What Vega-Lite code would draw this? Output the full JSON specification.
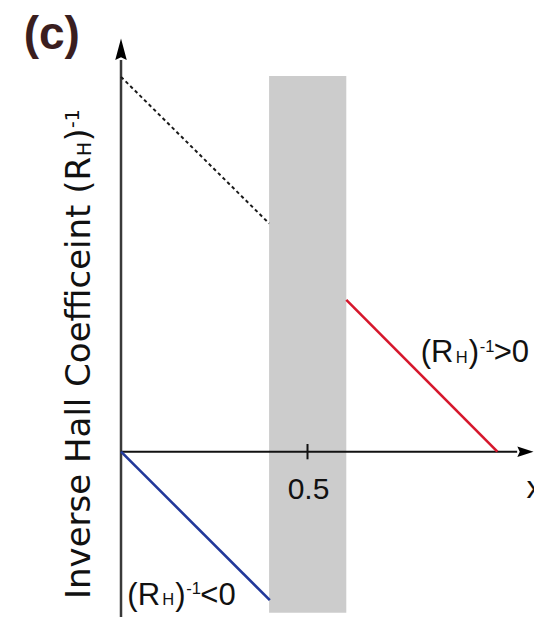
{
  "$schema": "https://vega.github.io/schema/vega-lite/v6.json",
  "width": 534,
  "height": 617,
  "padding": 0,
  "autosize": {"type": "none"},
  "background": "white",
  "config": {"view": {"stroke": null}},
  "datasets": {
    "band": [{"x": 0.397, "x2": 0.604, "y": -0.432, "y2": 1.007}],
    "curves": [
      {"branch": "extrapolated", "x": 0, "y": 1.005},
      {"branch": "extrapolated", "x": 0.397, "y": 0.612},
      {"branch": "positive", "x": 0.604, "y": 0.407},
      {"branch": "positive", "x": 1.009, "y": 0},
      {"branch": "negative", "x": 0, "y": 0},
      {"branch": "negative", "x": 0.399, "y": -0.398}
    ],
    "yaxis": [{"x": 0, "y": -0.45, "y2": 1.05}],
    "xaxis": [{"x": 0, "x2": 1.062, "y": 0}],
    "ticks": [{"x": 0.5, "y": -0.0204, "y2": 0.0206, "ly": -0.127}],
    "arrowUp": [{"x": 0, "y": 1.079}],
    "arrowRight": [{"x": 1.0842, "y": 0}],
    "labels": [
      {"branch": "positive", "x": 0.8035, "y": 0.2397, "open": "(R", "sub": "H", "close": ")", "sup": "-1", "sign": ">0"},
      {"branch": "negative", "x": 0.0169, "y": -0.411, "open": "(R", "sub": "H", "close": ")", "sup": "-1", "sign": "<0"}
    ],
    "title": [{"x": -0.0831, "y": -0.395, "main": "Inverse Hall Coefficeint (R", "sub": "H", "close": ")", "sup": "-1"}],
    "xname": [{"x": 1.087, "y": -0.125, "text": "x"}],
    "panel": [{"x": -0.261, "y": 1.0783, "text": "(c)"}]
  },
  "layer": [
    {
      "data": {"name": "band"},
      "mark": {"type": "rect", "color": "#cccccc"},
      "encoding": {
        "x": {"field": "x", "type": "quantitative", "axis": null, "scale": {"domain": [-0.3244, 1.1072], "nice": false, "zero": false}},
        "x2": {"field": "x2"},
        "y": {"field": "y", "type": "quantitative", "axis": null, "scale": {"domain": [-0.4432, 1.211], "nice": false, "zero": false}},
        "y2": {"field": "y2"}
      }
    },
    {
      "data": {"name": "yaxis"},
      "mark": {"type": "rule", "color": "#3a3a3a", "strokeWidth": 2.5},
      "encoding": {
        "x": {"field": "x", "type": "quantitative", "axis": null, "scale": {"domain": [-0.3244, 1.1072], "nice": false, "zero": false}},
        "y": {"field": "y", "type": "quantitative", "axis": null, "scale": {"domain": [-0.4432, 1.211], "nice": false, "zero": false}},
        "y2": {"field": "y2"}
      }
    },
    {
      "data": {"name": "xaxis"},
      "mark": {"type": "rule", "color": "#111111", "strokeWidth": 2},
      "encoding": {
        "x": {"field": "x", "type": "quantitative", "axis": null, "scale": {"domain": [-0.3244, 1.1072], "nice": false, "zero": false}},
        "x2": {"field": "x2"},
        "y": {"field": "y", "type": "quantitative", "axis": null, "scale": {"domain": [-0.4432, 1.211], "nice": false, "zero": false}}
      }
    },
    {
      "data": {"name": "ticks"},
      "mark": {"type": "rule", "color": "#111111", "strokeWidth": 2},
      "encoding": {
        "x": {"field": "x", "type": "quantitative", "axis": null, "scale": {"domain": [-0.3244, 1.1072], "nice": false, "zero": false}},
        "y": {"field": "y", "type": "quantitative", "axis": null, "scale": {"domain": [-0.4432, 1.211], "nice": false, "zero": false}},
        "y2": {"field": "y2"}
      }
    },
    {
      "data": {"name": "ticks"},
      "mark": {"type": "text", "font": "Liberation Sans", "fontSize": 30, "align": "center", "baseline": "alphabetic", "color": "#111111", "dx": 1},
      "encoding": {
        "x": {"field": "x", "type": "quantitative", "axis": null, "scale": {"domain": [-0.3244, 1.1072], "nice": false, "zero": false}},
        "y": {"field": "ly", "type": "quantitative", "axis": null, "scale": {"domain": [-0.4432, 1.211], "nice": false, "zero": false}},
        "text": {"field": "x", "type": "quantitative", "format": ".1f"}
      }
    },
    {
      "data": {"name": "arrowUp"},
      "mark": {"type": "point", "shape": "M0,-1L0.53,1L0,0.75L-0.53,1Z", "size": 471, "filled": true, "color": "#000000", "opacity": 1, "strokeWidth": 0},
      "encoding": {
        "x": {"field": "x", "type": "quantitative", "axis": null, "scale": {"domain": [-0.3244, 1.1072], "nice": false, "zero": false}},
        "y": {"field": "y", "type": "quantitative", "axis": null, "scale": {"domain": [-0.4432, 1.211], "nice": false, "zero": false}}
      }
    },
    {
      "data": {"name": "arrowRight"},
      "mark": {"type": "point", "shape": "M1,0L-1,-0.65L-0.7,0L-1,0.65Z", "size": 262, "filled": true, "color": "#000000", "opacity": 1, "strokeWidth": 0},
      "encoding": {
        "x": {"field": "x", "type": "quantitative", "axis": null, "scale": {"domain": [-0.3244, 1.1072], "nice": false, "zero": false}},
        "y": {"field": "y", "type": "quantitative", "axis": null, "scale": {"domain": [-0.4432, 1.211], "nice": false, "zero": false}}
      }
    },
    {
      "data": {"name": "curves"},
      "transform": [{"filter": "datum.branch === 'extrapolated'"}],
      "mark": {"type": "line", "color": "#1a1a1a", "strokeWidth": 2, "strokeDash": [3.5, 3]},
      "encoding": {
        "x": {"field": "x", "type": "quantitative", "axis": null, "scale": {"domain": [-0.3244, 1.1072], "nice": false, "zero": false}},
        "y": {"field": "y", "type": "quantitative", "axis": null, "scale": {"domain": [-0.4432, 1.211], "nice": false, "zero": false}}
      }
    },
    {
      "data": {"name": "curves"},
      "transform": [{"filter": "datum.branch === 'positive'"}],
      "mark": {"type": "line", "color": "#d6172c", "strokeWidth": 2.6},
      "encoding": {
        "x": {"field": "x", "type": "quantitative", "axis": null, "scale": {"domain": [-0.3244, 1.1072], "nice": false, "zero": false}},
        "y": {"field": "y", "type": "quantitative", "axis": null, "scale": {"domain": [-0.4432, 1.211], "nice": false, "zero": false}}
      }
    },
    {
      "data": {"name": "curves"},
      "transform": [{"filter": "datum.branch === 'negative'"}],
      "mark": {"type": "line", "color": "#22389a", "strokeWidth": 2.6},
      "encoding": {
        "x": {"field": "x", "type": "quantitative", "axis": null, "scale": {"domain": [-0.3244, 1.1072], "nice": false, "zero": false}},
        "y": {"field": "y", "type": "quantitative", "axis": null, "scale": {"domain": [-0.4432, 1.211], "nice": false, "zero": false}}
      }
    },
    {
      "data": {"name": "labels"},
      "mark": {"type": "text", "font": "Liberation Sans", "fontSize": 31, "align": "left", "baseline": "alphabetic", "color": "#111111", "dx": 0},
      "encoding": {
        "x": {"field": "x", "type": "quantitative", "axis": null, "scale": {"domain": [-0.3244, 1.1072], "nice": false, "zero": false}},
        "y": {"field": "y", "type": "quantitative", "axis": null, "scale": {"domain": [-0.4432, 1.211], "nice": false, "zero": false}},
        "text": {"field": "open"}
      }
    },
    {
      "data": {"name": "labels"},
      "mark": {"type": "text", "font": "Liberation Sans", "fontSize": 16.5, "align": "left", "baseline": "alphabetic", "color": "#111111", "dx": 35, "dy": 0.5},
      "encoding": {
        "x": {"field": "x", "type": "quantitative", "axis": null, "scale": {"domain": [-0.3244, 1.1072], "nice": false, "zero": false}},
        "y": {"field": "y", "type": "quantitative", "axis": null, "scale": {"domain": [-0.4432, 1.211], "nice": false, "zero": false}},
        "text": {"field": "sub"}
      }
    },
    {
      "data": {"name": "labels"},
      "mark": {"type": "text", "font": "Liberation Sans", "fontSize": 31, "align": "left", "baseline": "alphabetic", "color": "#111111", "dx": 48},
      "encoding": {
        "x": {"field": "x", "type": "quantitative", "axis": null, "scale": {"domain": [-0.3244, 1.1072], "nice": false, "zero": false}},
        "y": {"field": "y", "type": "quantitative", "axis": null, "scale": {"domain": [-0.4432, 1.211], "nice": false, "zero": false}},
        "text": {"field": "close"}
      }
    },
    {
      "data": {"name": "labels"},
      "mark": {"type": "text", "font": "Liberation Sans", "fontSize": 16.5, "align": "left", "baseline": "alphabetic", "color": "#111111", "dx": 59, "dy": -10.5},
      "encoding": {
        "x": {"field": "x", "type": "quantitative", "axis": null, "scale": {"domain": [-0.3244, 1.1072], "nice": false, "zero": false}},
        "y": {"field": "y", "type": "quantitative", "axis": null, "scale": {"domain": [-0.4432, 1.211], "nice": false, "zero": false}},
        "text": {"field": "sup"}
      }
    },
    {
      "data": {"name": "labels"},
      "mark": {"type": "text", "font": "Liberation Sans", "fontSize": 31, "align": "left", "baseline": "alphabetic", "color": "#111111", "dx": 73},
      "encoding": {
        "x": {"field": "x", "type": "quantitative", "axis": null, "scale": {"domain": [-0.3244, 1.1072], "nice": false, "zero": false}},
        "y": {"field": "y", "type": "quantitative", "axis": null, "scale": {"domain": [-0.4432, 1.211], "nice": false, "zero": false}},
        "text": {"field": "sign"}
      }
    },
    {
      "data": {"name": "title"},
      "mark": {"type": "text", "font": "DejaVu Sans", "fontSize": 34, "angle": 270, "align": "left", "baseline": "alphabetic", "color": "#111111", "dx": 0},
      "encoding": {
        "x": {"field": "x", "type": "quantitative", "axis": null, "scale": {"domain": [-0.3244, 1.1072], "nice": false, "zero": false}},
        "y": {"field": "y", "type": "quantitative", "axis": null, "scale": {"domain": [-0.4432, 1.211], "nice": false, "zero": false}},
        "text": {"field": "main"}
      }
    },
    {
      "data": {"name": "title"},
      "mark": {"type": "text", "font": "DejaVu Sans", "fontSize": 18.7, "angle": 270, "align": "left", "baseline": "alphabetic", "color": "#111111", "dx": 443, "dy": 1},
      "encoding": {
        "x": {"field": "x", "type": "quantitative", "axis": null, "scale": {"domain": [-0.3244, 1.1072], "nice": false, "zero": false}},
        "y": {"field": "y", "type": "quantitative", "axis": null, "scale": {"domain": [-0.4432, 1.211], "nice": false, "zero": false}},
        "text": {"field": "sub"}
      }
    },
    {
      "data": {"name": "title"},
      "mark": {"type": "text", "font": "DejaVu Sans", "fontSize": 34, "angle": 270, "align": "left", "baseline": "alphabetic", "color": "#111111", "dx": 457.5},
      "encoding": {
        "x": {"field": "x", "type": "quantitative", "axis": null, "scale": {"domain": [-0.3244, 1.1072], "nice": false, "zero": false}},
        "y": {"field": "y", "type": "quantitative", "axis": null, "scale": {"domain": [-0.4432, 1.211], "nice": false, "zero": false}},
        "text": {"field": "close"}
      }
    },
    {
      "data": {"name": "title"},
      "mark": {"type": "text", "font": "DejaVu Sans", "fontSize": 18.7, "angle": 270, "align": "left", "baseline": "alphabetic", "color": "#111111", "dx": 471, "dy": -11},
      "encoding": {
        "x": {"field": "x", "type": "quantitative", "axis": null, "scale": {"domain": [-0.3244, 1.1072], "nice": false, "zero": false}},
        "y": {"field": "y", "type": "quantitative", "axis": null, "scale": {"domain": [-0.4432, 1.211], "nice": false, "zero": false}},
        "text": {"field": "sup"}
      }
    },
    {
      "data": {"name": "xname"},
      "mark": {"type": "text", "font": "Liberation Sans", "fontSize": 32, "align": "left", "baseline": "alphabetic", "color": "#111111"},
      "encoding": {
        "x": {"field": "x", "type": "quantitative", "axis": null, "scale": {"domain": [-0.3244, 1.1072], "nice": false, "zero": false}},
        "y": {"field": "y", "type": "quantitative", "axis": null, "scale": {"domain": [-0.4432, 1.211], "nice": false, "zero": false}},
        "text": {"field": "text"}
      }
    },
    {
      "data": {"name": "panel"},
      "mark": {"type": "text", "font": "Liberation Sans", "fontSize": 46, "fontWeight": "bold", "align": "left", "baseline": "alphabetic", "color": "#3a1e1f"},
      "encoding": {
        "x": {"field": "x", "type": "quantitative", "axis": null, "scale": {"domain": [-0.3244, 1.1072], "nice": false, "zero": false}},
        "y": {"field": "y", "type": "quantitative", "axis": null, "scale": {"domain": [-0.4432, 1.211], "nice": false, "zero": false}},
        "text": {"field": "text"}
      }
    }
  ]
}
